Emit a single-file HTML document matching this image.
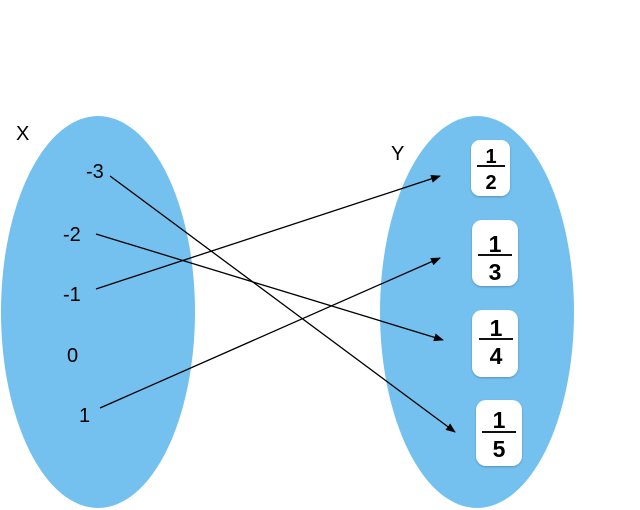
<!DOCTYPE html>
<html><head><style>
body{margin:0;background:#fff;}
svg{display:block;}
text{font-family:"Liberation Sans",sans-serif;fill:#000;}
.f{font-family:"Liberation Sans",sans-serif;font-weight:bold;}
</style></head><body>
<svg width="640" height="510" viewBox="0 0 640 510">
<defs><marker id="a" markerWidth="10" markerHeight="8" refX="9" refY="4" orient="auto" markerUnits="userSpaceOnUse"><path d="M0,0 L10,4 L0,8 Z" fill="#000"/></marker>
<filter id="s"><feDropShadow dx="0" dy="1" stdDeviation="1" flood-opacity="0.25"/></filter></defs>
<ellipse cx="98" cy="312" rx="97" ry="196" fill="#74c1ef"/>
<ellipse cx="477" cy="312" rx="97" ry="196" fill="#74c1ef"/>
<text x="16" y="140" font-size="20">X</text>
<text x="391" y="160" font-size="20">Y</text>
<text x="86" y="178" font-size="20">-3</text>
<text x="63" y="241" font-size="20">-2</text>
<text x="63" y="301" font-size="20">-1</text>
<text x="67" y="362" font-size="20">0</text>
<text x="79" y="422" font-size="20">1</text>
<g stroke="#000" stroke-width="1.3" fill="none" marker-end="url(#a)">
<line x1="110" y1="176" x2="455" y2="432"/>
<line x1="96" y1="234" x2="443" y2="340"/>
<line x1="96" y1="289" x2="440" y2="176"/>
<line x1="100" y1="408" x2="440" y2="258"/>
</g>
<g filter="url(#s)" fill="#fff">
<rect x="471" y="140" width="39" height="56" rx="9"/>
<rect x="472" y="220" width="46" height="66" rx="10"/>
<rect x="472" y="310" width="46" height="67" rx="10"/>
<rect x="476" y="400" width="46" height="66" rx="10"/>
</g>
<g stroke="#111" stroke-width="2">
<line x1="477" y1="166" x2="505" y2="166"/>
<line x1="478" y1="255" x2="512" y2="255"/>
<line x1="479" y1="339" x2="513" y2="339"/>
<line x1="482" y1="432" x2="516" y2="432"/>
</g>
<g text-anchor="middle">
<text x="491" y="163" font-size="20" class="f">1</text>
<text x="491" y="189" font-size="20" class="f">2</text>
<text x="495" y="252" font-size="23" class="f">1</text>
<text x="495" y="280" font-size="23" class="f">3</text>
<text x="496" y="336" font-size="23" class="f">1</text>
<text x="496" y="364" font-size="23" class="f">4</text>
<text x="499" y="428" font-size="23" class="f">1</text>
<text x="499" y="457" font-size="23" class="f">5</text>
</g>
</svg>
</body></html>
